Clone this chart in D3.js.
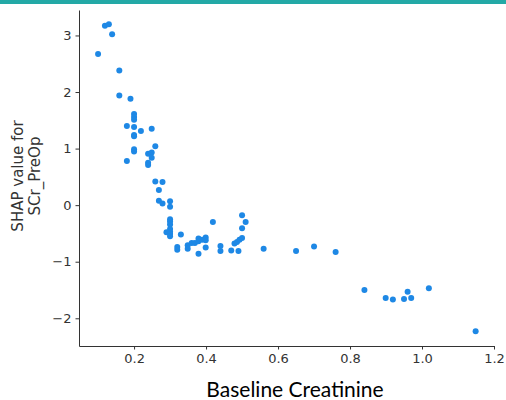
<!DOCTYPE html>
<html>
<head>
<meta charset="utf-8">
<script src="https://cdn.jsdelivr.net/npm/d3@7"></script>
<style>
  body { margin: 0; background: #fff; }
</style>
</head>
<body>
<div id="chart"></div>
<script>
//
// Data (Baseline Creatinine vs SHAP value)
//
var creatinine = [
    0.119, 0.13, 0.139, 0.10, 0.159, 0.159, 0.19, 0.20, 0.20, 0.20,
    0.18, 0.20, 0.249, 0.219, 0.20, 0.20, 0.259, 0.20, 0.20, 0.239,
    0.249, 0.249, 0.18, 0.239, 0.239,
    0.259, 0.279, 0.269, 0.269, 0.279, 0.30, 0.30, 0.30, 0.30, 0.30,
    0.30, 0.30, 0.29, 0.30, 0.30, 0.33, 0.32, 0.32, 0.349, 0.349,
    0.36, 0.369, 0.379, 0.379, 0.389, 0.399, 0.399, 0.379, 0.399, 0.419,
    0.44, 0.44, 0.47, 0.49, 0.479, 0.486, 0.493, 0.50, 0.50, 0.50, 0.51,
    0.56, 0.65, 0.70, 0.76, 0.84, 0.899, 0.919, 0.95, 0.96, 0.97, 1.019, 1.149
];
var shapValues = [
    3.17, 3.20, 3.02, 2.67, 2.38, 1.94, 1.88, 1.61, 1.56, 1.51,
    1.40, 1.38, 1.35, 1.31, 1.24, 1.22, 1.04, 0.99, 0.95, 0.91,
    0.93, 0.84, 0.78, 0.75, 0.71,
    0.42, 0.41, 0.27, 0.08, 0.03, 0.07, -0.03, -0.25, -0.29, -0.34,
    -0.42, -0.47, -0.48, -0.51, -0.55, -0.52, -0.74, -0.79, -0.71, -0.77,
    -0.67, -0.67, -0.59, -0.64, -0.61, -0.57, -0.62, -0.86, -0.75, -0.30,
    -0.72, -0.81, -0.80, -0.81, -0.68, -0.65, -0.61, -0.58, -0.41, -0.18, -0.30,
    -0.77, -0.81, -0.73, -0.83, -1.50, -1.64, -1.67, -1.66, -1.53, -1.64, -1.47, -2.23
];
var xTicks = [0.2, 0.4, 0.6, 0.8, 1.0, 1.2];
var yTicks = [-2, -1, 0, 1, 2, 3];

var width = 506, height = 400;
var margin = { top: 10, right: 12, bottom: 54, left: 79 };

var svg = d3.select("#chart").append("svg")
    .attr("width", width)
    .attr("height", height);

svg.append("rect")
    .attr("width", width).attr("height", height)
    .attr("fill", "#fff");

// teal band across the top
svg.append("rect")
    .attr("width", width).attr("height", 4)
    .attr("fill", "#23a9a6");

var x = d3.scaleLinear()
    .domain([0.047, 1.2])
    .range([margin.left, width - margin.right]);
var y = d3.scaleLinear()
    .domain([-2.49, 3.45])
    .range([height - margin.bottom, margin.top]);

var xAxis = svg.append("g")
    .attr("transform", "translate(0," + (height - margin.bottom) + ")")
    .call(d3.axisBottom(x).tickValues(xTicks).tickFormat(d3.format(".1f"))
        .tickSize(3.5).tickPadding(4).tickSizeOuter(0));

var yAxis = svg.append("g")
    .attr("transform", "translate(" + margin.left + ",0)")
    .call(d3.axisLeft(y).tickValues(yTicks).tickFormat(d3.format("d"))
        .tickSize(3.5).tickPadding(4).tickSizeOuter(0));

[xAxis, yAxis].forEach(function(g) {
    g.attr("font-family", "DejaVu Sans, sans-serif")
        .attr("font-size", 13);
    g.selectAll(".tick text").attr("fill", "#333");
    g.selectAll(".tick line").attr("stroke", "#333");
    g.select(".domain").attr("stroke", "#333");
});

var pts = creatinine.map(function(d, i) { return { x: d, y: shapValues[i] }; });

svg.append("g").selectAll("circle")
    .data(pts)
    .enter().append("circle")
    .attr("cx", function(d) { return x(d.x); })
    .attr("cy", function(d) { return y(d.y); })
    .attr("r", 3)
    .attr("fill", "#1e88e5");

// axis labels
svg.append("text")
    .attr("x", 295).attr("y", 397)
    .attr("text-anchor", "middle")
    .style("font-family", "Lato, sans-serif")
    .style("font-size", "21px")
    .style("fill", "#000")
    .text("Baseline Creatinine");

var ylab = svg.append("text")
    .attr("transform", "translate(0,176) rotate(-90)")
    .attr("text-anchor", "middle")
    .style("font-family", "DejaVu Sans, sans-serif")
    .style("font-size", "15px")
    .style("fill", "#333");
ylab.append("tspan").attr("x", 0).attr("y", 23).text("SHAP value for");
ylab.append("tspan").attr("x", 0).attr("y", 40).text("SCr_PreOp");
</script>
</body>
</html>
